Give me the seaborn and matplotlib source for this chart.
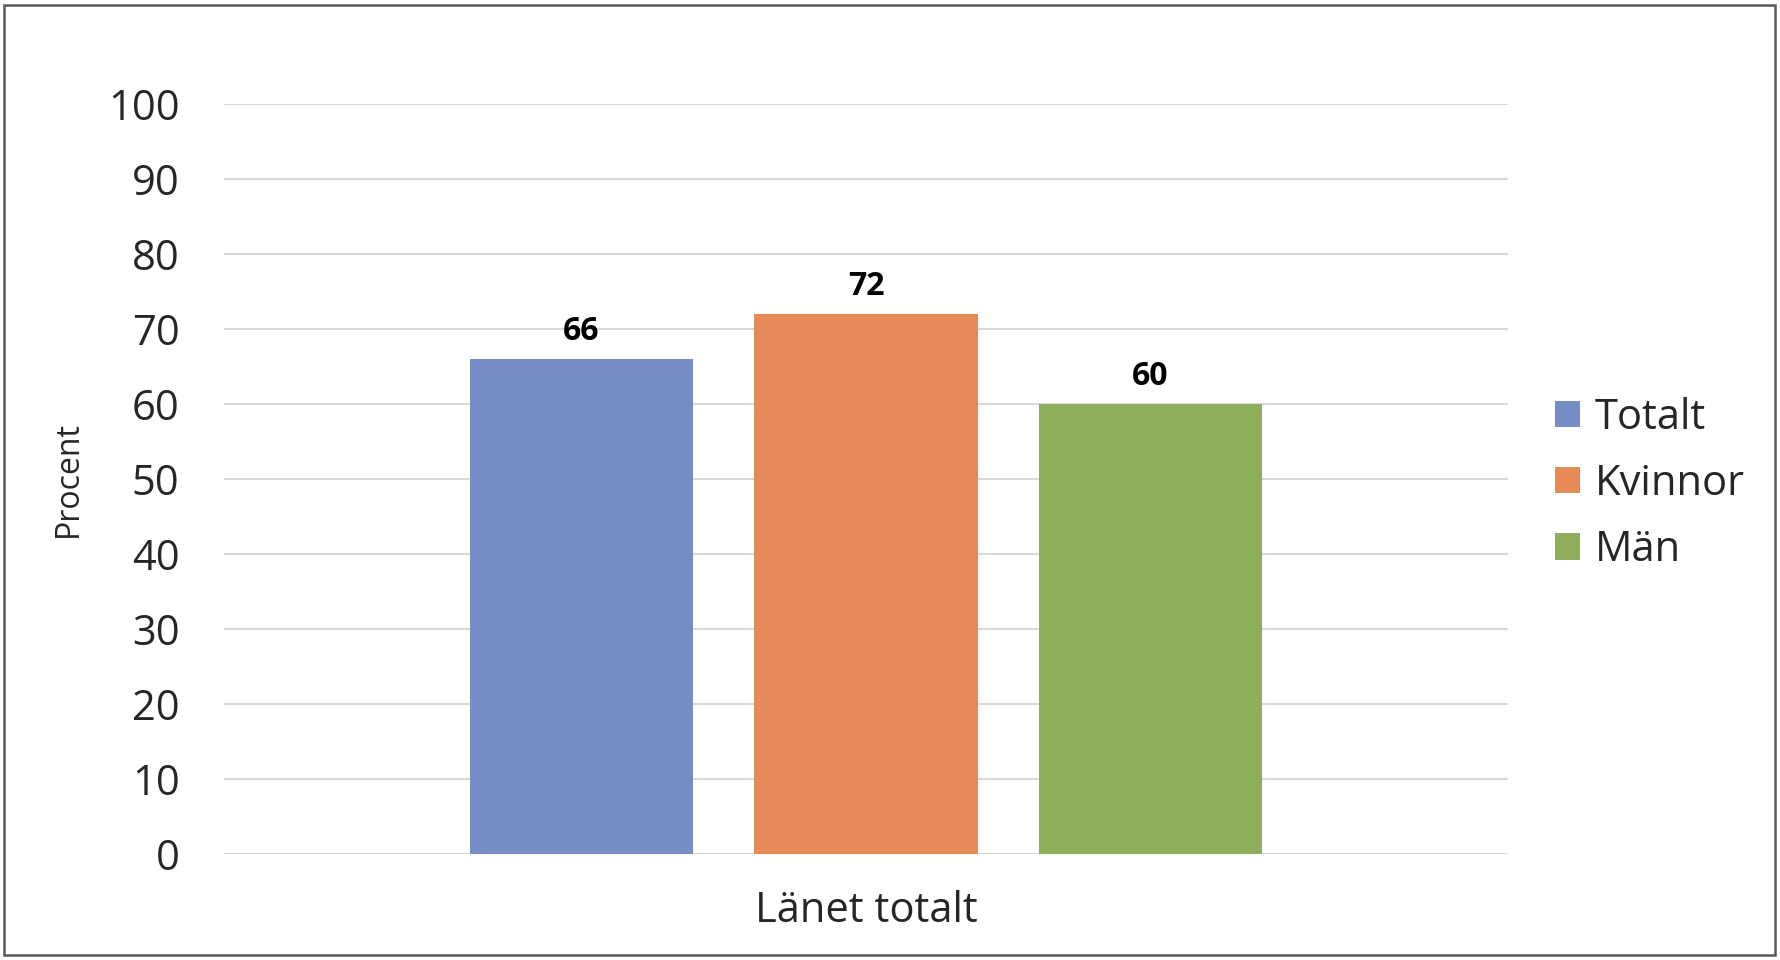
import matplotlib
matplotlib.use("Agg")
import pandas as pd
import seaborn as sns
from matplotlib import pyplot as plt
from matplotlib.patches import Rectangle

# data
omrade = ["Länet totalt", "Länet totalt", "Länet totalt"]
grupper = ["Totalt", "Kvinnor", "Män"]
procent = [66, 72, 60]
y_ticks = [0, 10, 20, 30, 40, 50, 60, 70, 80, 90, 100]

farger = ["#768DC6", "#E68A57", "#8EAE5E"]

df = pd.DataFrame({"Område": omrade, "Grupp": grupper, "Procent": procent})

sns.set_style("white")
plt.rcParams["font.family"] = ["Open Sans", "DejaVu Sans"]

f = plt.figure(figsize=(17.8, 9.6), dpi=100)
ax = f.add_axes([0.1258, 0.1104, 0.7214, 0.7813])

sns.barplot(
    ax=ax,
    data=df,
    x="Område",
    y="Procent",
    hue="Grupp",
    palette=farger,
    width=0.665,
    gap=0.216,
    saturation=1,
    edgecolor="none",
)

for c in ax.containers:
    ax.bar_label(c, fmt="%d", padding=8, fontsize=23, fontweight="bold", color="black")

ax.set_ylim(0, 100)
ax.set_yticks(y_ticks)
ax.yaxis.grid(True, color="#D9D9D9", linewidth=1.5)
ax.set_axisbelow(True)
for s in ax.spines.values():
    s.set_visible(False)
ax.tick_params(axis="y", length=0, pad=32, labelsize=30)
ax.tick_params(axis="x", length=0, pad=26, labelsize=30)
ax.set_xlabel("")
ax.set_ylabel("Procent", fontsize=23)
ax.yaxis.set_label_coords(-0.108, 0.5)

ax.legend(
    loc="center left",
    bbox_to_anchor=(0.8736, 0.496),
    bbox_transform=f.transFigure,
    frameon=False,
    fontsize=30,
    handlelength=0.6,
    handleheight=0.6,
    handletextpad=0.36,
    labelspacing=0.58,
    borderpad=0,
    borderaxespad=0,
)

f.patches.append(
    Rectangle((4 / 1780, 5 / 960), 1 - 9 / 1780, 1 - 10 / 960,
              transform=f.transFigure, fill=False, edgecolor="#595959", linewidth=1.8)
)

f.savefig("out.png", dpi=100)
